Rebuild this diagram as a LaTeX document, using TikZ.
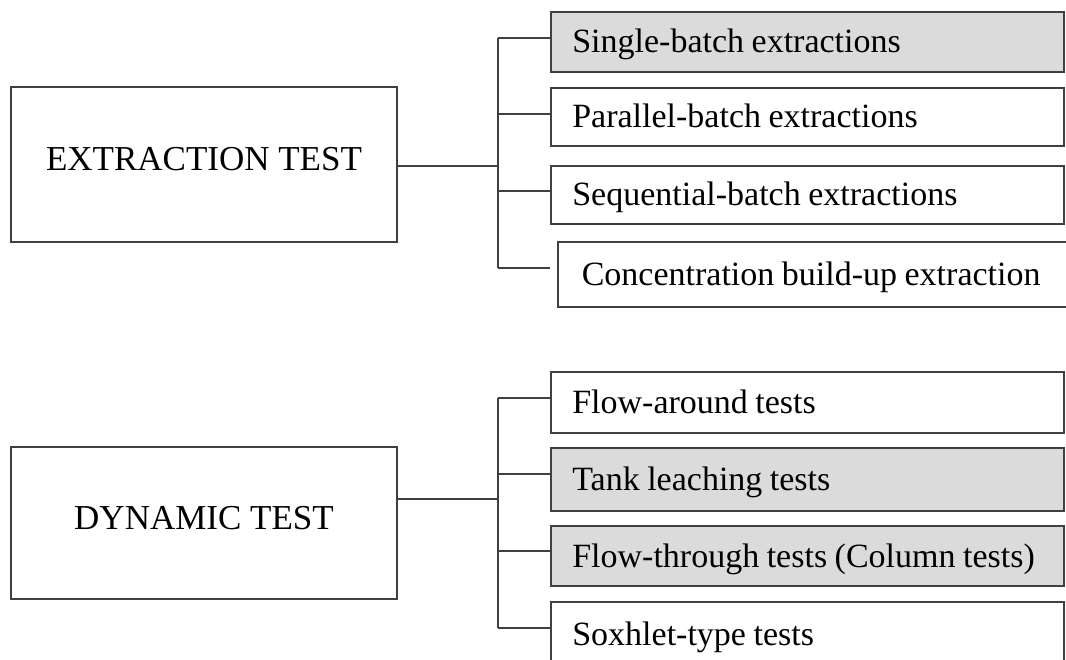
\documentclass[tikz,border=0pt]{standalone}
\usepackage{fontspec}
\setmainfont{Liberation Serif}
\usepackage{tikz}
\usetikzlibrary{calc}
\def\tightspace{\spaceskip=0.22em plus 0.05em\relax}
\tikzset{
  line/.style={draw=black!75, line width=1.6pt},
  testbox/.style={line, minimum width=386pt, inner sep=0pt,
    text height=23pt, text depth=10pt, font=\fontsize{35}{40}\selectfont},
  itembox/.style={line, anchor=west, minimum width=513pt, minimum height=60pt,
    inner xsep=21.5pt, inner ysep=0pt, text width=470pt, align=left,
    text height=22pt, text depth=0pt, font=\fontsize{34}{38}\selectfont,
    execute at begin node=\tightspace},
  shaded/.style={fill=black!14}
}
\begin{document}
\begin{tikzpicture}[x=1pt, y=-1pt]
		%%%%% START %%%%%
		\path[use as bounding box, clip] (0, 0) rectangle (1066, 660);
		
		% extraction group
		\node[testbox, minimum height=155pt] (ext) at (204, 164.5) {EXTRACTION TEST};
		\node[itembox, shaded] (sbe) at (550, 42) {Single-batch extractions};
		\node[itembox, minimum height=58pt] (pbe) at (550, 117) {Parallel-batch extractions};
		\node[itembox, minimum height=58pt] (qbe) at (550, 195) {Sequential-batch extractions};
		\node[itembox, minimum height=65pt, minimum width=530pt, inner xsep=24pt, text width=482pt] (cbe) at (557, 274.5) {Concentration build-up extraction};
		
		\coordinate (etop) at (498, 38);
		\coordinate (ejoin) at (498, 166);
		\coordinate (ebot) at (498, 268);
		\draw[line] (ext.east |- ejoin) -- (ejoin);
		\draw[line] (etop) -- (ebot);
		\foreach \n/\y in {sbe/38, pbe/114, qbe/191}
			\draw[line] (498, \y) -- (\n.west |- 0, \y);
		\draw[line] (ebot) -- ([xshift=-7pt]cbe.west |- ebot);
		
		% dynamic group
		\node[testbox, minimum height=152pt] (dyn) at (204, 523) {DYNAMIC TEST};
		\node[itembox, minimum height=61pt] (fat) at (550, 402.5) {Flow-around tests};
		\node[itembox, shaded, minimum height=63pt] (tlt) at (550, 479.5) {Tank leaching tests};
		\node[itembox, shaded] (ftt) at (550, 556) {Flow-through tests (Column tests)};
		\node[itembox, minimum height=64pt] (sxt) at (550, 634) {Soxhlet-type tests};
		
		\coordinate (dtop) at (498, 398);
		\coordinate (djoin) at (498, 499);
		\coordinate (dbot) at (498, 628);
		\draw[line] (dyn.east |- djoin) -- (djoin);
		\draw[line] (dtop) -- (dbot);
		\foreach \n/\y in {fat/398, tlt/474, ftt/551, sxt/628}
			\draw[line] (498, \y) -- (\n.west |- 0, \y);
		
		%%%%% END %%%%%
	\end{tikzpicture}
\end{document}
